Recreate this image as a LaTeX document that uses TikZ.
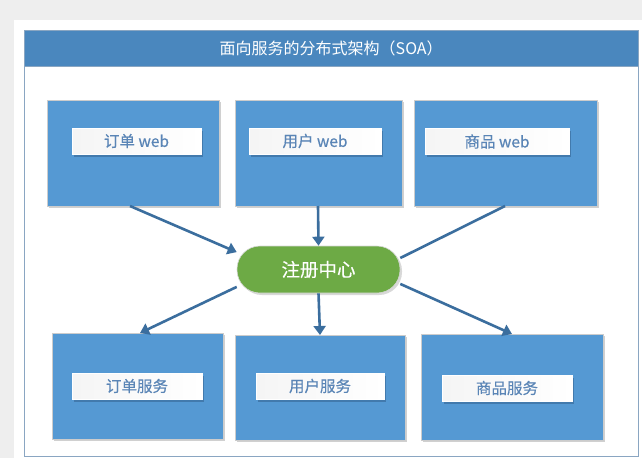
\documentclass[tikz,border=0pt]{standalone}
\usepackage{fontspec}
\setmainfont{Noto Sans CJK SC}
\newfontfamily\labfont[FakeBold=0.5]{Noto Sans CJK SC}
\usetikzlibrary{shadows,arrows.meta}
\definecolor{bgray}{HTML}{EEEEEE}
\definecolor{titleblue}{HTML}{4A87BE}
\definecolor{boxblue}{HTML}{5599D3}
\definecolor{framec}{HTML}{8AA6C2}
\definecolor{labtext}{HTML}{5A85B6}
\definecolor{greenc}{HTML}{6DAA45}
\definecolor{arrowc}{HTML}{3B6E9E}
\tikzset{
  bigbox/.style={fill=boxblue, draw=gray!40, line width=0.6pt, drop shadow={shadow xshift=2pt, shadow yshift=-2pt, fill=gray!60, opacity=0.6}},
  labbox/.style={inner sep=0pt, text=labtext, font=\labfont\fontsize{15.5}{17}\selectfont, left color=gray!8, right color=white, draw=white, drop shadow={shadow xshift=2pt, shadow yshift=-2.5pt, fill=arrowc, opacity=0.7}},
  conn/.style={draw=arrowc, line width=2.6pt},
  connarr/.style={conn, -{Triangle[length=9pt,width=12pt]}}
}
\begin{document}
\begin{tikzpicture}[x=1pt,y=-1pt]
\fill[bgray] (0,0) rectangle (642,458);
\fill[white] (14,20) rectangle (642,458);
\useasboundingbox (0,0) rectangle (642,458);
% frame
\draw[framec, line width=0.8pt] (24,30) rectangle (638,456);
\node[fill=titleblue, draw=framec, minimum width=614pt, minimum height=36pt, inner sep=0pt, anchor=north west, text=white, font=\fontsize{16}{18}\selectfont] (title) at (24,30) {面向服务的分布式架构（SOA）};
% top boxes
\path[bigbox] (47,100) rectangle (219,206);
\path[bigbox] (235,100) rectangle (402,206);
\path[bigbox] (414,100) rectangle (597,206);
\node[labbox, minimum width=129pt, minimum height=26pt] (tw1) at (136.5,141) {订单 web};
\node[labbox, minimum width=132pt, minimum height=26pt] (tw2) at (315,141) {用户 web};
\node[labbox, minimum width=144pt, minimum height=26pt] (tw3) at (497,141.5) {商品 web};
\coordinate (t1b) at (130,206);
\coordinate (t2b) at (318,206);
\coordinate (t3b) at (505,206);
% bottom boxes
\path[bigbox] (52,333) rectangle (223,439);
\path[bigbox] (235,335) rectangle (405,440);
\path[bigbox] (421,334) rectangle (603,440);
\node[labbox, minimum width=130pt, minimum height=26pt] (bs1) at (137,386) {订单服务};
\node[labbox, minimum width=128pt, minimum height=26pt] (bs2) at (320,386) {用户服务};
\node[labbox, minimum width=130pt, minimum height=26pt] (bs3) at (507,388) {商品服务};
\coordinate (b1t) at (140,333);
\coordinate (b2t) at (320,335);
\coordinate (b3t) at (512,334);
% center
\node[fill=greenc, draw=gray!30, line width=0.6pt, rounded corners=23pt, minimum width=163pt, minimum height=47pt, inner sep=0pt, text=white, font=\labfont\fontsize{18.5}{20}\selectfont, drop shadow={shadow xshift=2pt, shadow yshift=-2pt, fill=gray!60, opacity=0.5}] (reg) at (318.5,269.5) {注册中心};
% connectors
\draw[connarr] (t1b) -- (reg.168);
\draw[connarr] (t2b) -- (reg.north);
\draw[conn] (t3b) -- (reg.8);
\draw[connarr] (reg.192) -- (b1t);
\draw[connarr] (reg.south) -- (b2t);
\draw[connarr] (reg.-10) -- (b3t);
\end{tikzpicture}
\end{document}
